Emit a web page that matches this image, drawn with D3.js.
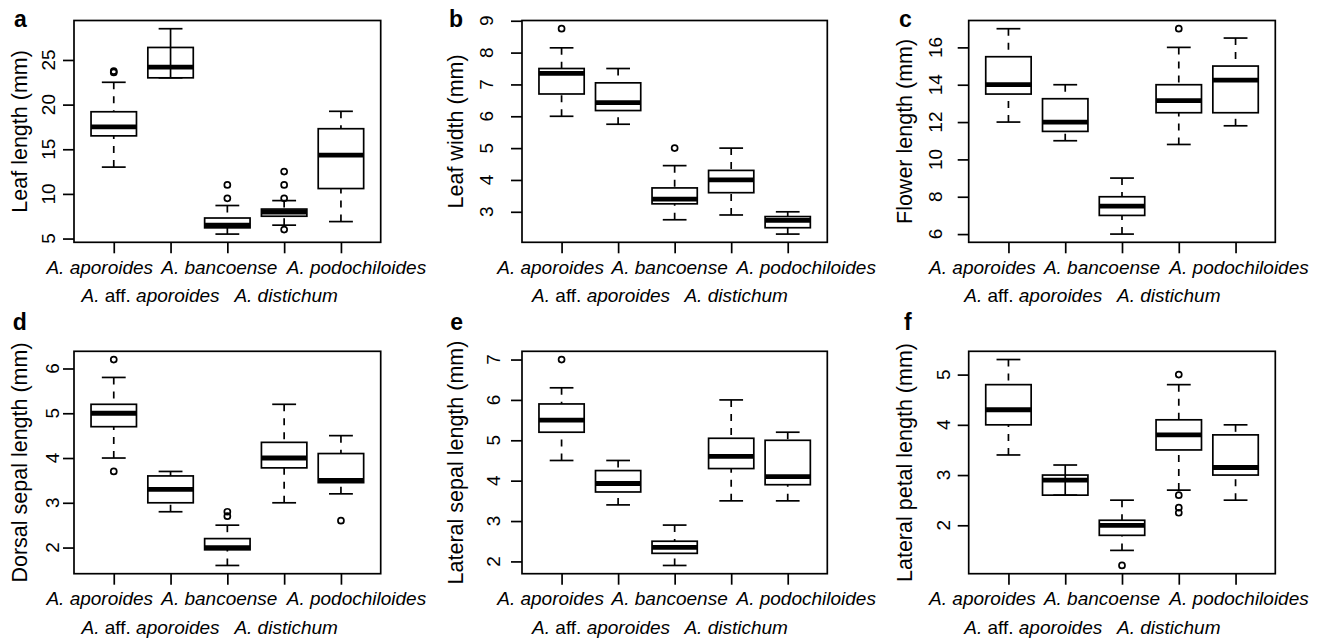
<!DOCTYPE html>
<html>
<head>
<meta charset="utf-8">
<script src="https://cdn.jsdelivr.net/npm/d3@7"></script>
<style>
  body { margin: 0; background: #fff; }
  svg { display: block; font-family: "Liberation Sans", Arial, Helvetica, sans-serif; }
</style>
</head>
<body>
<svg id="chart" width="1325" height="642"></svg>
<script>
var species = ['A. aporoides', 'A. aff. aporoides', 'A. bancoense', 'A. distichum', 'A. podochiloides'];

// box stats per species: [lower whisker, Q1, median, Q3, upper whisker]
var leafLength = [[13, 16.5, 17.5, 19.2, 22.5], [23, 23, 24.2, 26.4, 28.5], [5.5, 6.2, 6.5, 7.3, 8.7], [6.5, 7.5, 7.95, 8.3, 9.25], [6.9, 10.6, 14.35, 17.3, 19.25]];
var leafLengthOut = [[23.6, 23.75], [], [9.5, 11], [6, 9.5, 11, 12.5], []];
var leafLengthTicks = [5, 10, 15, 20, 25];

var leafWidth = [[6.0, 6.7, 7.35, 7.5, 8.15], [5.75, 6.18, 6.43, 7.05, 7.5], [2.75, 3.25, 3.4, 3.75, 4.45], [2.9, 3.6, 4.0, 4.3, 5.0], [2.3, 2.5, 2.73, 2.85, 3.0]];
var leafWidthOut = [[8.75], [], [5.0], [], []];
var leafWidthTicks = [3, 4, 5, 6, 7, 8, 9];

var flowerLength = [[12, 13.5, 14, 15.5, 17], [11, 11.5, 12, 13.25, 14], [6, 7, 7.5, 8, 9], [10.8, 12.5, 13.15, 14, 16], [11.8, 12.5, 14.25, 15, 16.5]];
var flowerLengthOut = [[], [], [], [17], []];
var flowerLengthTicks = [6, 8, 10, 12, 14, 16];

var dorsalSepal = [[4.0, 4.7, 5.0, 5.2, 5.8], [2.8, 3.0, 3.3, 3.6, 3.7], [1.6, 1.95, 2.0, 2.2, 2.5], [3.0, 3.78, 4.0, 4.35, 5.2], [3.2, 3.45, 3.5, 4.1, 4.5]];
var dorsalSepalOut = [[3.7, 6.2], [], [2.7, 2.8], [], [2.6]];
var dorsalSepalTicks = [2, 3, 4, 5, 6];

var lateralSepal = [[4.5, 5.2, 5.5, 5.9, 6.3], [3.4, 3.72, 3.93, 4.25, 4.5], [1.9, 2.2, 2.35, 2.5, 2.9], [3.5, 4.3, 4.6, 5.05, 6.0], [3.5, 3.9, 4.1, 5.0, 5.2]];
var lateralSepalOut = [[7.0], [], [], [], []];
var lateralSepalTicks = [2, 3, 4, 5, 6, 7];

var lateralPetal = [[3.4, 4.0, 4.3, 4.8, 5.3], [2.6, 2.6, 2.9, 3.0, 3.2], [1.5, 1.8, 2.0, 2.1, 2.5], [2.7, 3.5, 3.8, 4.1, 4.8], [2.5, 3.0, 3.15, 3.8, 4.0]];
var lateralPetalOut = [[], [], [1.2], [2.6, 2.35, 2.25, 5.0], []];
var lateralPetalTicks = [2, 3, 4, 5];

var panels = [
  {letter: 'a', label: 'Leaf length (mm)', stats: leafLength, out: leafLengthOut, ticks: leafLengthTicks},
  {letter: 'b', label: 'Leaf width (mm)', stats: leafWidth, out: leafWidthOut, ticks: leafWidthTicks},
  {letter: 'c', label: 'Flower length (mm)', stats: flowerLength, out: flowerLengthOut, ticks: flowerLengthTicks},
  {letter: 'd', label: 'Dorsal sepal length (mm)', stats: dorsalSepal, out: dorsalSepalOut, ticks: dorsalSepalTicks},
  {letter: 'e', label: 'Lateral sepal length (mm)', stats: lateralSepal, out: lateralSepalOut, ticks: lateralSepalTicks},
  {letter: 'f', label: 'Lateral petal length (mm)', stats: lateralPetal, out: lateralPetalOut, ticks: lateralPetalTicks}
];

// layout
var cols = [{left: 74, right: 380.7, ylab: 26.7}, {left: 522, right: 827.3, ylab: 463}, {left: 968.7, right: 1275.3, ylab: 911.7}];
var rows = [{top: 20.5, bottom: 242.3, letterY: 26.5}, {top: 351.3, bottom: 573.7, letterY: 329.5}];
var tickLabelGap = [19, 29, 27, 15, 22, 19];
var labelNudge = [-14, -20, -8, 2, 15.5];
var colNudge = [0, 3, -12];
var lw = 1.7;

var svg = d3.select('#chart');

panels.forEach(function(p, i) {
  var col = cols[i % 3], row = rows[Math.floor(i / 3)];
  var g = svg.append('g');

  // y domain like R: data range plus 4%
  var all = [];
  p.stats.forEach(function(s, k) { all = all.concat(s, p.out[k]); });
  var ext = d3.extent(all), pad = (ext[1] - ext[0]) * 0.04;

  var x = d3.scaleLinear().domain([0.3, 5.7]).range([col.left, col.right]);
  var y = d3.scaleLinear().domain([ext[0] - pad, ext[1] + pad]).range([row.bottom, row.top]);
  var bw = x(1.4) - x(1), sw = x(1.21) - x(1);

  // y axis ticks + rotated labels
  var yAxis = g.append('g').attr('transform', 'translate(' + col.left + ',0)')
    .call(d3.axisLeft(y).tickValues(p.ticks).tickSize(11).tickFormat(d3.format('d')));
  yAxis.select('.domain').remove();
  yAxis.selectAll('line').attr('stroke', '#000').attr('stroke-width', lw);
  yAxis.selectAll('text').remove();
  g.selectAll('.ytl').data(p.ticks).enter().append('text')
    .attr('transform', function(t) { return 'translate(' + (col.left - tickLabelGap[i]) + ',' + y(t) + ') rotate(-90)'; })
    .attr('text-anchor', 'middle')
    .style('font-size', '19px')
    .text(function(t) { return t; });

  // x axis ticks
  var xAxis = g.append('g').attr('transform', 'translate(0,' + row.bottom + ')')
    .call(d3.axisBottom(x).tickValues([1, 2, 3, 4, 5]).tickSize(11).tickFormat(''));
  xAxis.select('.domain').remove();
  xAxis.selectAll('line').attr('stroke', '#000').attr('stroke-width', lw);

  // species names on two lines, "aff." stays upright
  var names = g.selectAll('.xl').data(species).enter().append('text')
    .attr('x', function(d, k) { return x(k + 1) + labelNudge[k] + colNudge[i % 3]; })
    .attr('y', function(d, k) { return row.bottom + (k % 2 === 0 ? 31.5 : 60); })
    .attr('text-anchor', 'middle')
    .style('font-size', '19px');
  names.each(function(d) {
    var t = d3.select(this);
    d.split(/( aff\. )/).forEach(function(part) {
      if (part === '') return;
      t.append('tspan')
        .style('font-style', part === ' aff. ' ? 'normal' : 'italic')
        .attr('xml:space', 'preserve')
        .text(part);
    });
  });

  // y label
  g.append('text')
    .attr('transform', 'translate(' + col.ylab + ',' + ((row.top + row.bottom) / 2) + ') rotate(-90)')
    .attr('text-anchor', 'middle')
    .style('font-size', '21.5px')
    .text(p.label);

  // panel letter
  g.append('text')
    .attr('x', col.ylab).attr('y', row.letterY)
    .attr('text-anchor', 'end')
    .style('font-size', '23px').style('font-weight', 'bold')
    .text(p.letter);

  // boxes
  var boxes = g.selectAll('.box').data(p.stats).enter().append('g');
  boxes.each(function(s, k) {
    var b = d3.select(this), cx = x(k + 1);
    if (s[0] < s[1]) {
      b.append('line').attr('x1', cx).attr('x2', cx).attr('y1', y(s[0])).attr('y2', y(s[1]))
        .attr('stroke', '#000').attr('stroke-width', lw).attr('stroke-dasharray', '7,7');
      b.append('line').attr('x1', cx).attr('x2', cx).attr('y1', y(s[4])).attr('y2', y(s[3]))
        .attr('stroke', '#000').attr('stroke-width', lw).attr('stroke-dasharray', '7,7');
    } else {
      // no lower whisker: plain line runs through the box
      b.append('line').attr('x1', cx).attr('x2', cx).attr('y1', y(s[4])).attr('y2', y(s[1]))
        .attr('stroke', '#000').attr('stroke-width', lw);
    }
    [s[0], s[4]].forEach(function(v) {
      b.append('line').attr('x1', cx - sw).attr('x2', cx + sw).attr('y1', y(v)).attr('y2', y(v))
        .attr('stroke', '#000').attr('stroke-width', lw);
    });
    b.append('rect').attr('x', cx - bw).attr('width', 2 * bw)
      .attr('y', y(s[3])).attr('height', y(s[1]) - y(s[3]))
      .attr('fill', 'none').attr('stroke', '#000').attr('stroke-width', lw);
    b.append('line').attr('x1', cx - bw).attr('x2', cx + bw).attr('y1', y(s[2])).attr('y2', y(s[2]))
      .attr('stroke', '#000').attr('stroke-width', 4.8);
    b.selectAll('circle').data(p.out[k]).enter().append('circle')
      .attr('cx', cx).attr('cy', function(v) { return y(v); }).attr('r', 3)
      .attr('fill', 'none').attr('stroke', '#000').attr('stroke-width', lw);
  });

  // frame
  g.append('rect').attr('x', col.left).attr('y', row.top)
    .attr('width', col.right - col.left).attr('height', row.bottom - row.top)
    .attr('fill', 'none').attr('stroke', '#000').attr('stroke-width', lw);
});
</script>
</body>
</html>
